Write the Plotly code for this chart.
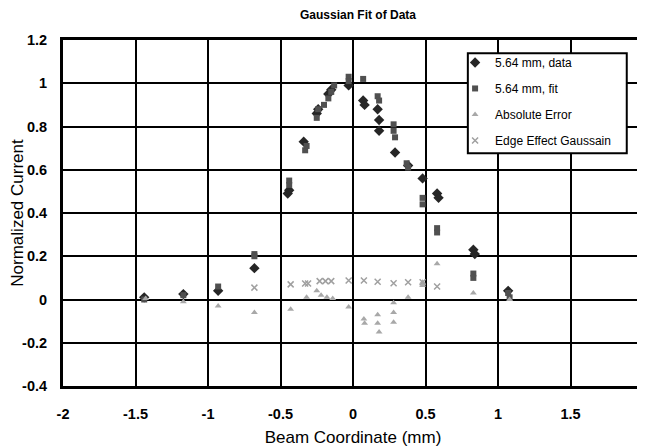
import plotly.graph_objects as go

# ---- data ----
data_x = [-1.44, -1.17, -0.93, -0.68, -0.45, -0.44, -0.34, -0.25, -0.24, -0.17, -0.15,
          -0.03, 0.07, 0.08, 0.17, 0.18, 0.18, 0.29, 0.38, 0.48, 0.58, 0.59, 0.83, 0.84, 1.07]
data_y = [0.01, 0.025, 0.04, 0.145, 0.49, 0.505, 0.73, 0.86, 0.88, 0.95, 0.97,
          0.99, 0.92, 0.90, 0.88, 0.83, 0.78, 0.68, 0.62, 0.56, 0.49, 0.47, 0.23, 0.21, 0.04]

fit_x = [-1.44, -1.17, -0.93, -0.68, -0.68, -0.44, -0.44, -0.33, -0.32, -0.25, -0.24,
         -0.2, -0.17, -0.15, -0.13, -0.03, -0.03, 0.07, 0.17, 0.18, 0.28, 0.28, 0.29,
         0.37, 0.38, 0.48, 0.48, 0.58, 0.58, 0.83, 0.83, 1.07, 1.08]
fit_y = [0.0, 0.02, 0.06, 0.2, 0.21, 0.53, 0.55, 0.69, 0.71, 0.84, 0.88,
         0.9, 0.93, 0.96, 0.99, 1.03, 1.01, 1.02, 0.94, 0.92, 0.81, 0.78, 0.75,
         0.63, 0.61, 0.47, 0.44, 0.33, 0.31, 0.12, 0.10, 0.03, 0.01]

err_x = [-1.43, -1.17, -0.93, -0.68, -0.43, -0.32, -0.25, -0.22, -0.18, -0.14, -0.03,
         0.075, 0.08, 0.17, 0.17, 0.18, 0.28, 0.28, 0.28, 0.38, 0.48, 0.48, 0.58, 0.83, 1.08]
err_y = [0.005, -0.01, -0.03, -0.06, -0.045, 0.01, 0.04, 0.02, 0.01, 0.005, -0.035,
         -0.09, -0.11, -0.07, -0.11, -0.15, -0.015, -0.06, -0.105, 0.01, 0.08, 0.065, 0.165, 0.03, 0.0]

edge_x = [-0.68, -0.43, -0.33, -0.31, -0.23, -0.19, -0.15, -0.03, 0.075, 0.17, 0.28,
          0.38, 0.48, 0.58]
edge_y = [0.055, 0.07, 0.074, 0.074, 0.085, 0.085, 0.085, 0.088, 0.088, 0.082, 0.075,
          0.08, 0.08, 0.06]

x_ticks = [-2, -1.5, -1, -0.5, 0, 0.5, 1, 1.5, 2]
x_labels = ["-2", "-1.5", "-1", "-0.5", "0", "0.5", "1", "1.5", "2"]
y_ticks = [-0.4, -0.2, 0, 0.2, 0.4, 0.6, 0.8, 1.0, 1.2]
y_labels = ["-0.4", "-0.2", "0", "0.2", "0.4", "0.6", "0.8", "1", "1.2"]

FONT = "Liberation Sans, Arial, sans-serif"

fig = go.Figure()
fig.add_trace(go.Scatter(x=data_x, y=data_y, mode="markers", name="5.64 mm, data",
                         legendgroup="a",
                         marker=dict(symbol="diamond", size=8, color="#262626")))
fig.add_trace(go.Scatter(x=fit_x, y=fit_y, mode="markers", name="5.64 mm, fit",
                         legendgroup="b",
                         marker=dict(symbol="square", size=6, color="#505050")))
fig.add_trace(go.Scatter(x=err_x, y=err_y, mode="markers", name="Absolute Error",
                         legendgroup="c",
                         marker=dict(symbol="triangle-up", size=6, color="#a8a8a8")))
fig.add_trace(go.Scatter(x=edge_x, y=edge_y, mode="markers", name="Edge Effect Gaussain",
                         legendgroup="d",
                         marker=dict(symbol="x-thin", size=6, color="#a0a0a0",
                                     line=dict(width=1.5, color="#a0a0a0"))))

# page body has an 8px margin; the figure is offset by it
fig.update_layout(
    width=645, height=439,
    margin=dict(l=55, r=10, t=32, b=61, autoexpand=False),
    paper_bgcolor="white", plot_bgcolor="white",
    font=dict(family=FONT, color="black"),
    title=dict(text="<b>Gaussian Fit of Data</b>", x=0.5426, xanchor="center",
               y=0.984, yanchor="middle",
               font=dict(family=FONT, size=12, color="black")),
    showlegend=True,
    legend=dict(x=0.676, y=0.977, xanchor="left", yanchor="top",
                bgcolor="rgba(0,0,0,0)", borderwidth=0,
                itemwidth=30, tracegroupgap=7,
                font=dict(family=FONT, size=12, color="black")),
    shapes=[dict(type="rect", xref="paper", yref="paper",
                 x0=0.698, x1=0.972, y0=0.673, y1=0.962,
                 fillcolor="white", line=dict(color="black", width=2), layer="above")],
)
fig.update_xaxes(range=[-2, 2], tickvals=x_ticks, ticktext=x_labels, automargin=False,
                 showgrid=True, gridcolor="black", gridwidth=1.5,
                 showline=True, linecolor="black", linewidth=3, mirror=True,
                 zeroline=False, ticks="", ticklabelstandoff=13,
                 tickfont=dict(size=14.5, family=FONT, weight="bold"),
                 title=dict(text="Beam Coordinate (mm)", standoff=10,
                            font=dict(size=17, family=FONT)))
fig.update_yaxes(range=[-0.4, 1.2], tickvals=y_ticks, ticktext=y_labels, automargin=False,
                 showgrid=True, gridcolor="black", gridwidth=1.5,
                 showline=True, linecolor="black", linewidth=3, mirror=True,
                 zeroline=False, ticks="", ticklabelstandoff=10,
                 tickfont=dict(size=14.5, family=FONT, weight="bold"),
                 title=dict(text="Normalized Current", standoff=0,
                            font=dict(size=17, family=FONT)))

fig.write_html("out.html")
